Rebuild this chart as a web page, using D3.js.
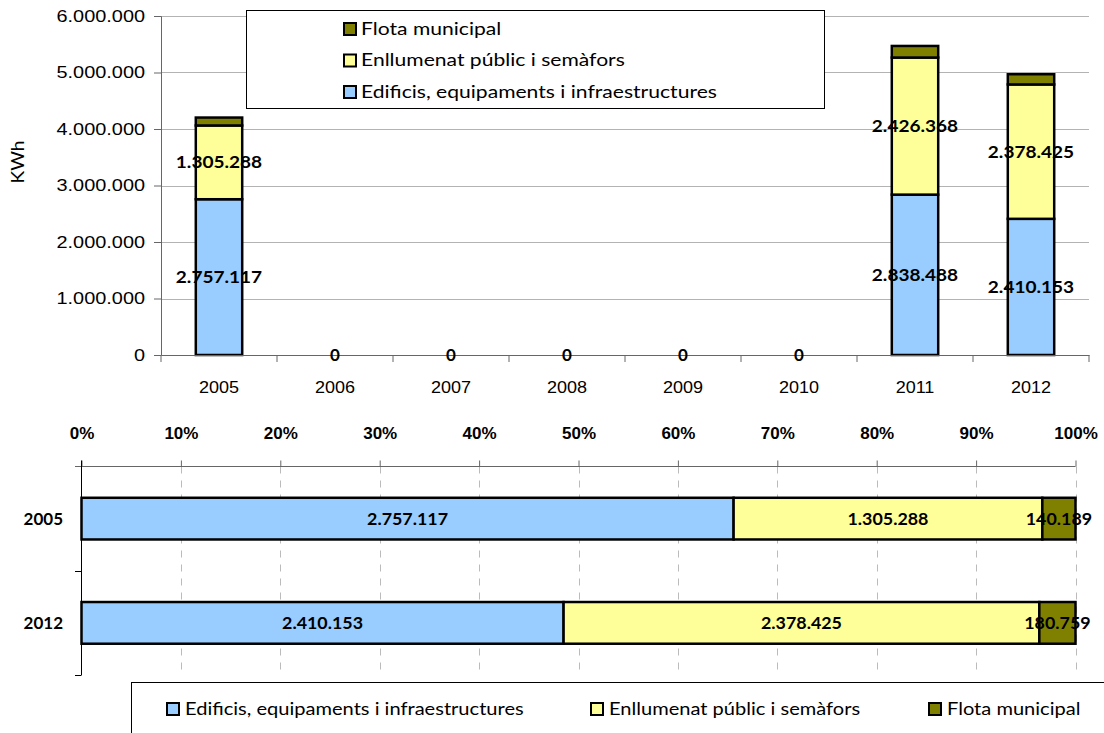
<!DOCTYPE html>
<html>
<head>
<meta charset="utf-8">
<script src="https://cdn.jsdelivr.net/npm/d3@7"></script>
<style>
  body { margin: 0; background: #fff; }
  svg { display: block; font-family: Lato, "Open Sans", sans-serif; }
  .grid line { stroke: #b3b3b3; shape-rendering: crispEdges; }
  .lbl { font-weight: bold; fill: #000; }
</style>
</head>
<body>
<div id="chart"></div>
<script>
var years = ["2005", "2006", "2007", "2008", "2009", "2010", "2011", "2012"];
var edificis = [2757117, 0, 0, 0, 0, 0, 2838488, 2410153];
var enllumenat = [1305288, 0, 0, 0, 0, 0, 2426368, 2378425];
var flota = [140189, 0, 0, 0, 0, 0, 205000, 180759];

var seriesNames = ["Edificis, equipaments i infraestructures", "Enllumenat públic i semàfors", "Flota municipal"];
var seriesColors = ["#99ccff", "#ffff99", "#808000"];

var compareYears = ["2005", "2012"];
var yTicks = [0, 1000000, 2000000, 3000000, 4000000, 5000000, 6000000];
var pctTicks = [0, 0.1, 0.2, 0.3, 0.4, 0.5, 0.6, 0.7, 0.8, 0.9, 1];

var locale = d3.formatLocale({decimal: ",", thousands: ".", grouping: [3], currency: ["", ""]});
var fmt = locale.format(",d");
var fmtPct = d3.format(".0%");

// the source picture is a bit wider than the font, stretch texts a little
var stretch = function (sel, k) {
  sel.each(function () {
    var w = this.getComputedTextLength();
    d3.select(this).attr("textLength", w * k).attr("lengthAdjust", "spacingAndGlyphs");
  });
};

var width = 1104, height = 733;
var svg = d3.select("#chart").append("svg")
  .attr("width", width)
  .attr("height", height);

var rows = years.map(function (y, i) {
  return {year: y, s0: edificis[i], s1: enllumenat[i], s2: flota[i]};
});
var keys = ["s0", "s1", "s2"];
var stack = d3.stack().keys(keys)(rows);

// ---------- upper chart ----------
var upper = {left: 161, right: 1089, top: 16, bottom: 355};

var x = d3.scaleBand()
  .domain(years)
  .range([upper.left, upper.right])
  .paddingInner(0.6)
  .paddingOuter(0.3);

var y = d3.scaleLinear()
  .domain([0, 6000000])
  .range([upper.bottom, upper.top]);

svg.append("g")
  .attr("class", "grid")
  .selectAll("line")
  .data(yTicks.slice(1))
  .enter()
  .append("line")
  .attr("x1", upper.left)
  .attr("x2", upper.right)
  .attr("y1", function (d) { return Math.round(y(d)) + 0.5; })
  .attr("y2", function (d) { return Math.round(y(d)) + 0.5; });

svg.append("g")
  .selectAll("g")
  .data(stack)
  .enter()
  .append("g")
  .attr("fill", function (d, i) { return seriesColors[i]; })
  .selectAll("rect")
  .data(function (d) { return d.filter(function (p) { return p[1] > p[0]; }); })
  .enter()
  .append("rect")
  .attr("x", function (d) { return x(d.data.year); })
  .attr("y", function (d) { return y(d[1]); })
  .attr("width", x.bandwidth())
  .attr("height", function (d) { return y(d[0]) - y(d[1]); })
  .attr("stroke", "#000")
  .attr("stroke-width", 2.5);

var yAxis = d3.axisLeft(y)
  .tickValues(yTicks)
  .tickFormat(fmt)
  .tickSize(7)
  .tickPadding(9);

svg.append("g")
  .attr("transform", "translate(" + upper.left + ",0)")
  .call(yAxis)
  .call(function (g) {
    g.selectAll("text").attr("font-size", 17).attr("fill", "#000").attr("font-family", null);
    g.selectAll("line, path").attr("stroke", "#666");
    stretch(g.selectAll("text"), 1.17);
  });

var xAxis = d3.axisBottom(x).tickSize(0).tickPadding(26);

svg.append("g")
  .attr("transform", "translate(0," + upper.bottom + ")")
  .call(xAxis)
  .call(function (g) {
    g.selectAll("text").attr("font-size", 17).attr("fill", "#000").attr("font-family", null);
    g.select(".domain").attr("stroke", "#666");
    stretch(g.selectAll("text"), 1.06);
  });

// category boundary ticks
svg.append("g")
  .selectAll("line")
  .data(d3.range(years.length + 1))
  .enter()
  .append("line")
  .attr("x1", function (i) { return upper.left + i * x.step(); })
  .attr("x2", function (i) { return upper.left + i * x.step(); })
  .attr("y1", upper.bottom)
  .attr("y2", upper.bottom + 7)
  .attr("stroke", "#666");

// value labels (edificis + enllumenat)
stack.slice(0, 2).forEach(function (s) {
  svg.append("g")
    .selectAll("text")
    .data(s.filter(function (p) { return p[1] > p[0]; }))
    .enter()
    .append("text")
    .attr("class", "lbl")
    .attr("x", function (d) { return x(d.data.year) + x.bandwidth() / 2; })
    .attr("y", function (d) { return (y(d[0]) + y(d[1])) / 2; })
    .attr("dy", "0.35em")
    .attr("text-anchor", "middle")
    .attr("font-size", 17)
    .text(function (d) { return fmt(d[1] - d[0]); })
    .call(stretch, 1.12);
});

// zero labels
svg.append("g")
  .selectAll("text")
  .data(rows.filter(function (r) { return r.s0 + r.s1 + r.s2 === 0; }))
  .enter()
  .append("text")
  .attr("class", "lbl")
  .attr("x", function (d) { return x(d.year) + x.bandwidth() / 2; })
  .attr("y", y(0))
  .attr("dy", "0.35em")
  .attr("text-anchor", "middle")
  .attr("font-size", 17)
  .text("0");

svg.append("text")
  .attr("transform", "translate(24,162) rotate(-90)")
  .attr("text-anchor", "middle")
  .attr("font-size", 17)
  .text("KWh")
  .call(stretch, 1.12);

// upper legend
var legTop = svg.append("g");
legTop.append("rect")
  .attr("x", 246.5).attr("y", 10.5)
  .attr("width", 578).attr("height", 98)
  .attr("fill", "#fff").attr("stroke", "#000");

var legTopItems = legTop.selectAll("g.item")
  .data([2, 1, 0])
  .enter()
  .append("g")
  .attr("class", "item")
  .attr("transform", function (d, i) { return "translate(344," + (29 + i * 31.5) + ")"; });

legTopItems.append("rect")
  .attr("x", 0).attr("y", -6)
  .attr("width", 12).attr("height", 12)
  .attr("fill", function (d) { return seriesColors[d]; })
  .attr("stroke", "#000").attr("stroke-width", 2);

legTopItems.append("text")
  .attr("x", 17).attr("dy", "0.35em")
  .attr("font-size", 17)
  .text(function (d) { return seriesNames[d]; })
  .call(stretch, 1.24);

// ---------- lower chart ----------
var bot = {left: 81.5, right: 1075.5, top: 466.5, bottom: 675};

var px = d3.scaleLinear().domain([0, 1]).range([bot.left, bot.right]);
var py = d3.scaleBand()
  .domain(compareYears)
  .range([bot.top, bot.bottom])
  .paddingInner(0.6)
  .paddingOuter(0.3);

var compRows = rows.filter(function (r) { return compareYears.indexOf(r.year) >= 0; })
  .map(function (r) {
    var tot = r.s0 + r.s1 + r.s2;
    return {year: r.year, s0: r.s0 / tot, s1: r.s1 / tot, s2: r.s2 / tot, raw: r};
  });
var compStack = d3.stack().keys(keys)(compRows);

svg.append("g")
  .selectAll("line")
  .data(pctTicks.slice(1))
  .enter()
  .append("line")
  .attr("x1", function (d) { return Math.round(px(d)) + 0.5; })
  .attr("x2", function (d) { return Math.round(px(d)) + 0.5; })
  .attr("y1", bot.top)
  .attr("y2", bot.bottom)
  .attr("stroke", "#bbb")
  .attr("stroke-dasharray", "7,7");

compStack.forEach(function (s, si) {
  svg.append("g")
    .selectAll("rect")
    .data(s)
    .enter()
    .append("rect")
    .attr("x", function (d) { return px(d[0]); })
    .attr("y", function (d) { return py(d.data.year); })
    .attr("width", function (d) { return px(d[1]) - px(d[0]); })
    .attr("height", py.bandwidth())
    .attr("fill", seriesColors[si])
    .attr("stroke", "#000")
    .attr("stroke-width", 2.5);
});

compStack.forEach(function (s, si) {
  svg.append("g")
    .selectAll("text")
    .data(s)
    .enter()
    .append("text")
    .attr("class", "lbl")
    .attr("x", function (d) { return (px(d[0]) + px(d[1])) / 2; })
    .attr("y", function (d) { return py(d.data.year) + py.bandwidth() / 2; })
    .attr("dy", "0.35em")
    .attr("text-anchor", "middle")
    .attr("font-size", 17)
    .text(function (d) { return fmt(d.data.raw[keys[si]]); })
    .call(stretch, 1.05);
});

var pAxis = d3.axisTop(px)
  .tickValues(pctTicks)
  .tickFormat(fmtPct)
  .tickSize(6)
  .tickPadding(22);

svg.append("g")
  .attr("transform", "translate(0," + bot.top + ")")
  .call(pAxis)
  .call(function (g) {
    g.selectAll("text").attr("font-size", 17).attr("font-weight", "bold").attr("fill", "#000").attr("font-family", null);
    g.selectAll("line").attr("stroke", "#666");
    g.select(".domain").attr("d", "M75,0H" + bot.right).attr("stroke", "#666");
  });

svg.append("line")
  .attr("x1", bot.left).attr("x2", bot.left)
  .attr("y1", bot.top - 6).attr("y2", bot.bottom)
  .attr("stroke", "#000");

svg.append("g")
  .selectAll("line")
  .data([bot.top + py.step(), bot.bottom])
  .enter()
  .append("line")
  .attr("x1", 75).attr("x2", bot.left)
  .attr("y1", function (d) { return Math.round(d) + 0.5; })
  .attr("y2", function (d) { return Math.round(d) + 0.5; })
  .attr("stroke", "#000");

svg.append("g")
  .selectAll("text")
  .data(compareYears)
  .enter()
  .append("text")
  .attr("class", "lbl")
  .attr("x", 63)
  .attr("y", function (d) { return py(d) + py.bandwidth() / 2; })
  .attr("dy", "0.35em")
  .attr("text-anchor", "end")
  .attr("font-size", 17)
  .text(function (d) { return d; });

// lower legend
var legBot = svg.append("g");
legBot.append("rect")
  .attr("x", 131.5).attr("y", 682.5)
  .attr("width", 1000).attr("height", 80)
  .attr("fill", "#fff").attr("stroke", "#000");

var legBotX = [167, 591, 929];
var legBotItems = legBot.selectAll("g.item")
  .data([0, 1, 2])
  .enter()
  .append("g")
  .attr("class", "item")
  .attr("transform", function (d) { return "translate(" + legBotX[d] + ",709)"; });

legBotItems.append("rect")
  .attr("x", 0).attr("y", -6)
  .attr("width", 12).attr("height", 12)
  .attr("fill", function (d) { return seriesColors[d]; })
  .attr("stroke", "#000").attr("stroke-width", 2);

legBotItems.append("text")
  .attr("x", 18).attr("dy", "0.35em")
  .attr("font-size", 17)
  .text(function (d) { return seriesNames[d]; })
  .call(stretch, 1.18);
</script>
</body>
</html>
